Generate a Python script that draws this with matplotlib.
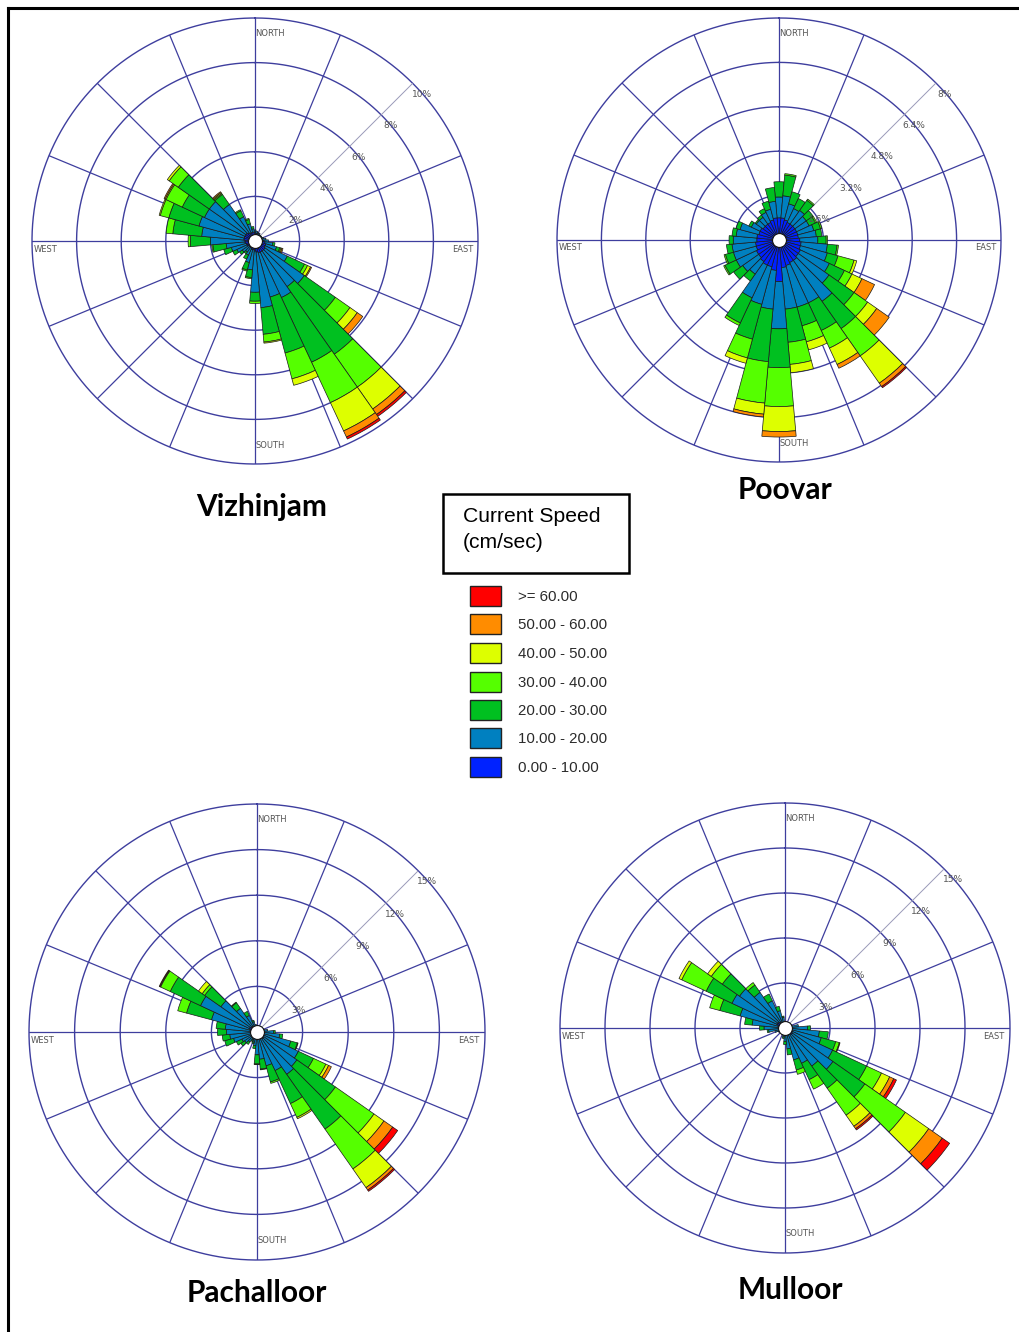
import numpy as np
import matplotlib
matplotlib.use("Agg")
import matplotlib.pyplot as plt
from matplotlib.patches import Rectangle

W, H = 1020, 1332

# speed classes, low to high
class_colors = ["#0022ff", "#0080c0", "#00c020", "#55ff00", "#ddff00", "#ff8c00", "#ff0000"]
class_labels = ["0.00 - 10.00", "10.00 - 20.00", "20.00 - 30.00", "30.00 - 40.00",
                "40.00 - 50.00", "50.00 - 60.00", ">= 60.00"]

directions = np.arange(0, 360, 10)

# cumulative % per direction (0, 10, ..., 350 deg), one entry per speed class reached
vizhinjam = [
    [0.4, 0.5], [0.35, 0.45], [0.35, 0.4], [0.3, 0.4], [0.3, 0.35], [0.3, 0.35],
    [0.3, 0.35], [0.3, 0.4], [0.35, 0.5], [0.4, 0.6], [0.45, 0.8, 0.9],
    [0.5, 1.0, 1.15, 1.2, 1.25, 1.3],
    [0.5, 1.6, 2.45, 2.6, 2.75, 2.8],
    [0.55, 2.7, 4.4, 5.2, 5.6, 5.9],
    [0.55, 2.5, 6.2, 8.0, 9.2, 9.5, 9.6],
    [0.55, 2.8, 6.0, 8.0, 9.4, 9.7, 9.8],
    [0.55, 2.6, 5.2, 6.4, 6.7],
    [0.5, 3.0, 4.2, 4.55, 4.6],
    [0.45, 2.3, 2.7, 2.8],
    [0.4, 1.3, 1.65, 1.7],
    [0.4, 1.0, 1.35, 1.4],
    [0.35, 0.7, 0.9],
    [0.35, 0.6, 0.7], [0.35, 0.7, 0.85], [0.4, 0.9, 1.1], [0.4, 1.1, 1.45],
    [0.45, 1.3, 1.9, 1.95],
    [0.45, 2.0, 2.9, 3.0],
    [0.5, 2.4, 3.7, 4.0],
    [0.5, 2.6, 4.0, 4.4, 4.45],
    [0.5, 2.5, 3.6, 4.4, 4.45, 4.5],
    [0.5, 2.5, 4.2, 4.7, 4.8],
    [0.45, 2.0, 2.55, 2.6, 2.65, 2.7],
    [0.4, 1.2, 1.5, 1.55],
    [0.4, 0.8, 1.0, 1.05],
    [0.4, 0.55, 0.65],
]

poovar = [
    [0.8, 1.55, 2.1], [0.8, 1.6, 2.35, 2.4], [0.75, 1.35, 1.8], [0.7, 1.25, 1.65],
    [0.7, 1.3, 1.75, 1.8], [0.7, 1.2, 1.5], [0.7, 1.2, 1.45, 1.5], [0.7, 1.3, 1.55, 1.6],
    [0.7, 1.35, 1.55], [0.75, 1.4, 1.7, 1.75], [0.8, 1.75, 2.1, 2.15],
    [0.8, 1.8, 2.2, 2.8, 2.9],
    [0.85, 2.0, 2.6, 2.9, 3.3, 3.8],
    [0.85, 2.2, 3.3, 3.9, 4.3, 4.85],
    [0.9, 2.7, 3.9, 5.1, 6.3, 6.45, 6.5],
    [0.9, 2.5, 3.6, 4.3, 4.95, 5.1],
    [0.95, 2.5, 3.2, 3.8, 4.1],
    [1.0, 2.5, 3.7, 4.5, 4.8],
    [1.5, 3.2, 4.6, 6.0, 6.9, 7.1],
    [1.1, 2.5, 4.4, 5.9, 6.3, 6.4],
    [1.0, 2.4, 3.7, 4.4, 4.6],
    [1.0, 2.3, 3.3, 3.4],
    [0.95, 1.5, 1.8],
    [0.9, 1.6, 2.0],
    [0.9, 1.7, 2.15, 2.2],
    [0.85, 1.7, 2.0, 2.05],
    [0.85, 1.7, 1.9],
    [0.8, 1.65, 1.8],
    [0.8, 1.55, 1.7],
    [0.75, 1.45, 1.6],
    [0.75, 1.1, 1.2],
    [0.7, 1.0, 1.05],
    [0.7, 1.0, 1.1],
    [0.7, 1.1, 1.25],
    [0.75, 1.15, 1.45],
    [0.8, 1.4, 1.9],
]

pachalloor = [
    [0.3, 0.4], [0.3, 0.4], [0.25, 0.35], [0.25, 0.3], [0.25, 0.3], [0.25, 0.3],
    [0.25, 0.35], [0.3, 0.5], [0.3, 0.7], [0.35, 1.1, 1.2], [0.4, 1.5, 1.7],
    [0.45, 2.3, 2.75, 2.8],
    [0.5, 3.0, 4.1, 5.0, 5.2, 5.4],
    [0.55, 3.2, 6.3, 9.4, 10.2, 10.9, 11.3],
    [0.55, 3.4, 7.8, 11.0, 12.5, 12.7, 12.8],
    [0.5, 2.8, 5.2, 6.2, 6.3],
    [0.45, 2.3, 3.4, 3.5],
    [0.4, 1.8, 2.45, 2.5],
    [0.35, 1.5, 2.1, 2.15],
    [0.3, 0.9, 1.1], [0.3, 0.7, 0.8], [0.3, 0.6, 0.7], [0.3, 0.8, 1.0], [0.3, 1.0, 1.3],
    [0.35, 1.1, 1.5],
    [0.35, 1.6, 2.2],
    [0.4, 1.8, 2.3],
    [0.4, 2.0, 2.6],
    [0.45, 2.1, 2.7],
    [0.5, 3.1, 4.8, 5.4],
    [0.55, 4.1, 6.3, 7.0, 7.05, 7.1],
    [0.5, 2.9, 4.2, 4.4, 4.7],
    [0.45, 1.9, 2.35, 2.4],
    [0.4, 1.2, 1.5],
    [0.35, 0.7, 0.8],
    [0.3, 0.5],
]

mulloor = [
    [0.3, 0.4], [0.25, 0.35], [0.25, 0.3], [0.25, 0.3], [0.25, 0.3], [0.25, 0.3],
    [0.25, 0.35], [0.3, 0.5], [0.35, 0.9], [0.4, 1.5, 1.7], [0.45, 2.3, 2.9],
    [0.5, 2.5, 3.5, 3.75, 3.8],
    [0.55, 3.5, 6.0, 7.1, 7.7, 8.0, 8.2],
    [0.6, 3.9, 6.5, 9.8, 11.7, 12.8, 13.4],
    [0.55, 3.1, 4.9, 7.1, 8.0, 8.2, 8.3],
    [0.5, 2.6, 3.8, 4.5],
    [0.45, 2.2, 2.9, 3.2],
    [0.4, 1.4, 1.8],
    [0.35, 0.9, 1.1],
    [0.3, 0.6, 0.7], [0.3, 0.5], [0.3, 0.4], [0.25, 0.4], [0.25, 0.4], [0.3, 0.5],
    [0.3, 0.7],
    [0.35, 1.1, 1.2],
    [0.4, 1.4, 1.7],
    [0.45, 2.2, 2.7],
    [0.5, 3.1, 4.5, 5.2],
    [0.6, 3.9, 5.8, 7.6, 7.8],
    [0.55, 3.7, 5.1, 6.0, 6.3],
    [0.5, 2.9, 3.5, 3.7],
    [0.45, 2.0, 2.5],
    [0.4, 1.2, 1.5],
    [0.35, 0.7, 0.8],
]

viz_rings = [2, 4, 6, 8, 10]
poo_rings = [1.6, 3.2, 4.8, 6.4, 8]
pac_rings = [3, 6, 9, 12, 15]
mul_rings = [3, 6, 9, 12, 15]

grid_color = "#3e3e9e"

fig = plt.figure(figsize=(W / 100, H / 100), dpi=100)
# overlay in pixel coordinates for frame, titles and legend
ov = fig.add_axes([0, 0, 1, 1])
ov.set_xlim(0, W)
ov.set_ylim(H, 0)
ov.axis("off")


def add_rose(cx, cy, R, rings, rows, title, tx, ty):
    rmax = rings[-1]
    ax = fig.add_axes([(cx - R) / W, 1 - (cy + R) / H, 2 * R / W, 2 * R / H], projection="polar")
    ax.set_theta_zero_location("N")
    ax.set_theta_direction(-1)
    ax.set_ylim(0, rmax)
    ax.grid(False)
    ax.set_xticks([])
    ax.set_yticks([])
    ax.spines["polar"].set_visible(False)
    ax.patch.set_alpha(0)

    t = np.linspace(0, 2 * np.pi, 400)
    for r in rings:
        ax.plot(t, np.full_like(t, r), color=grid_color, lw=1.0, zorder=1, clip_on=False)
    for a in np.arange(0, 360, 22.5):
        c, lw = (grid_color, 0.9) if a != 45 else ("#9a9ab8", 0.7)
        ax.plot([np.radians(a)] * 2, [0, rmax], color=c, lw=lw, zorder=1)

    width = np.radians(10)
    for d, cum in zip(directions, rows):
        prev = 0
        for k, v in enumerate(cum):
            h = v - prev
            if h > 0:
                ax.bar(np.radians(d), h, width=width, bottom=prev, color=class_colors[k],
                       edgecolor="#1a1a1a", linewidth=0.5, zorder=3)
            prev = v
    ax.plot(0, 0, "o", ms=10, mfc="white", mec="#111111", mew=0.8, zorder=6, clip_on=False)

    # compass labels
    lab = dict(fontsize=6, color="#555555", ha="center", va="center")
    ov.text(cx + 0.067 * R, cy - 0.93 * R, "NORTH", **lab)
    ov.text(cx + 0.067 * R, cy + 0.915 * R, "SOUTH", **lab)
    ov.text(cx - 0.94 * R, cy + 0.036 * R, "WEST", **lab)
    ov.text(cx + 0.93 * R, cy + 0.036 * R, "EAST", **lab)
    # ring labels drawn on top of the bars
    for r in rings:
        rr = r / rmax * R * np.cos(np.radians(45))
        ax.text(cx + rr + 9, cy - rr + 11, "{:g}%".format(r), fontsize=6.5,
                color="#555555", ha="center", va="center", transform=ov.transData,
                zorder=7, clip_on=False)

    ov.text(tx, ty, title, fontsize=21.5, fontweight="bold", family="Lato",
            ha="center", va="center")


add_rose(255, 241, 223, viz_rings, vizhinjam, "Vizhinjam", 262, 507)
add_rose(779, 240, 222, poo_rings, poovar, "Poovar", 785, 490)
add_rose(257, 1032, 228, pac_rings, pachalloor, "Pachalloor", 257, 1293)
add_rose(785, 1028, 225, mul_rings, mulloor, "Mulloor", 790, 1290)

# frame (top and left edges only)
ov.plot([8, 8], [H, 8], color="black", lw=2.2, solid_capstyle="projecting")
ov.plot([8, W], [8, 8], color="black", lw=2.2, solid_capstyle="projecting")

# legend
ov.add_patch(Rectangle((443, 494), 186, 79, fill=False, edgecolor="black", lw=1.8))
ov.text(463, 517, "Current Speed", fontsize=15.2, family="Liberation Sans", va="center")
ov.text(463, 542, "(cm/sec)", fontsize=15.2, family="Liberation Sans", va="center")
rows_y = [596, 624, 653, 682, 710, 738, 767]
for yc, col, lbl in zip(rows_y, class_colors[::-1], class_labels[::-1]):
    ov.add_patch(Rectangle((470, yc - 10), 31, 20, facecolor=col, edgecolor="#222222", lw=1.0))
    ov.text(518, yc + 1, lbl, fontsize=10.8, family="Liberation Sans", color="#2a2a2a",
            va="center")

fig.savefig("out.png", dpi=100)
